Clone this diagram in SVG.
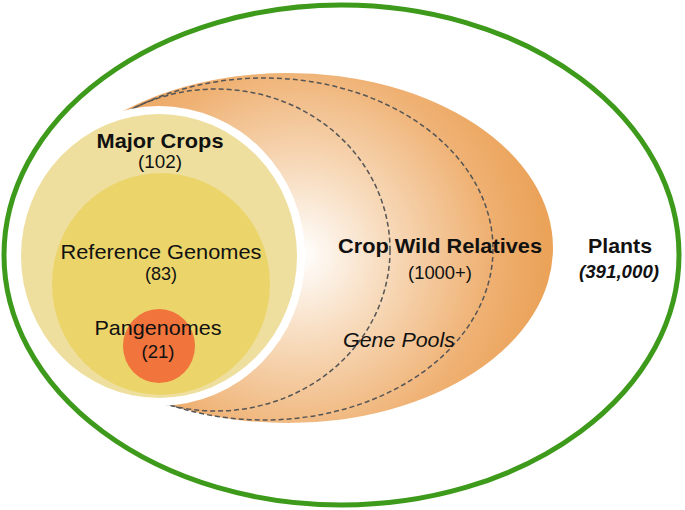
<svg xmlns="http://www.w3.org/2000/svg" width="685" height="510" viewBox="0 0 685 510">
  <defs>
    <radialGradient id="cwrGrad" gradientUnits="userSpaceOnUse" cx="300" cy="255" r="245">
      <stop offset="0" stop-color="#ffffff"/>
      <stop offset="0.37" stop-color="#f7d9b9"/>
      <stop offset="0.77" stop-color="#efb173"/>
      <stop offset="1" stop-color="#eba35a"/>
    </radialGradient>
    <style>
      text { font-family: "Liberation Sans", Arial, sans-serif; fill: #111; text-anchor: middle; }
      .lbl { font-size: 21px; }
      .num { font-size: 18.5px; }
      .b { font-weight: bold; }
      .i { font-style: italic; }
      .pool { fill: none; stroke: #555; stroke-width: 1.5; stroke-dasharray: 5 3; }
    </style>
  </defs>
  <rect width="685" height="510" fill="#ffffff"/>

  <g id="plants">
    <ellipse cx="341.5" cy="255" rx="337.5" ry="250" fill="#ffffff" stroke="#3d9a1a" stroke-width="5"/>
    <text class="lbl b" x="620" y="253" textLength="64" lengthAdjust="spacingAndGlyphs">Plants</text>
    <text class="num b i" x="619" y="278" textLength="80" lengthAdjust="spacingAndGlyphs">(391,000)</text>
  </g>

  <g id="crop-wild-relatives">
    <ellipse cx="288" cy="248" rx="265" ry="175" fill="url(#cwrGrad)"/>
    <ellipse class="pool" cx="264" cy="249" rx="229" ry="171"/>
    <ellipse class="pool" cx="216" cy="250" rx="174" ry="161"/>
    <text class="lbl b" x="440" y="253" textLength="204" lengthAdjust="spacingAndGlyphs">Crop Wild Relatives</text>
    <text class="num" x="440" y="279" textLength="64" lengthAdjust="spacingAndGlyphs">(1000+)</text>
    <text class="lbl i" x="399" y="347" textLength="112" lengthAdjust="spacingAndGlyphs">Gene Pools</text>
  </g>

  <g id="major-crops">
    <ellipse cx="159" cy="256" rx="146" ry="150" fill="#ffffff"/>
    <ellipse cx="159" cy="256" rx="138" ry="142" fill="#eedf9e"/>
    <text class="lbl b" x="160" y="148" textLength="127" lengthAdjust="spacingAndGlyphs">Major Crops</text>
    <text class="num" x="160" y="168" textLength="44" lengthAdjust="spacingAndGlyphs">(102)</text>
  </g>

  <g id="reference-genomes">
    <ellipse cx="161" cy="284" rx="109" ry="111" fill="#ebd56a"/>
    <text class="lbl" x="161" y="259" textLength="201" lengthAdjust="spacingAndGlyphs">Reference Genomes</text>
    <text class="num" x="161" y="280" textLength="32" lengthAdjust="spacingAndGlyphs">(83)</text>
  </g>

  <g id="pangenomes">
    <ellipse cx="159" cy="346" rx="36" ry="37" fill="#f0743c"/>
    <text class="lbl" x="158" y="335" textLength="127" lengthAdjust="spacingAndGlyphs">Pangenomes</text>
    <text class="num" x="158" y="358" textLength="33" lengthAdjust="spacingAndGlyphs">(21)</text>
  </g>

  <g id="connectors"/>
</svg>
